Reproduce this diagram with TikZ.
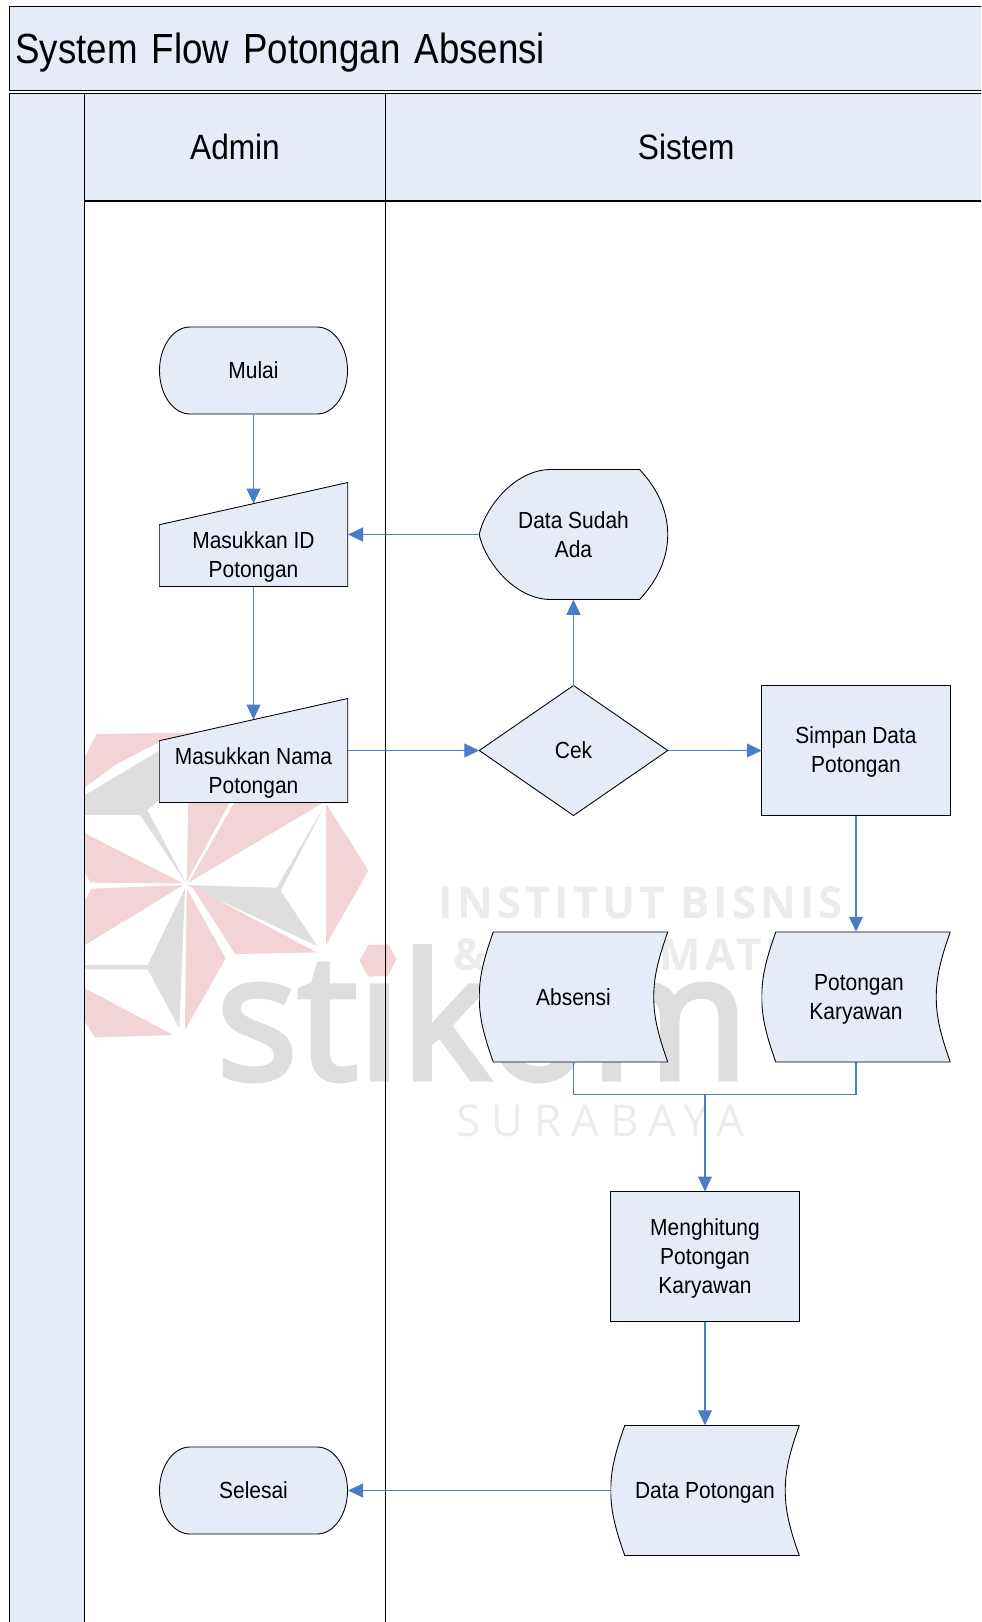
\documentclass[tikz,border=0pt]{standalone}
\usepackage{fontspec}
\setmainfont[FakeStretch=0.9]{Liberation Sans}
\newfontfamily\titlefamily[FakeStretch=0.87,WordSpace=0.45]{Liberation Sans}
\newfontfamily\markfont{Open Sans}
\newfontfamily\stikomfont[FakeStretch=0.98,FakeBold=3]{Open Sans}
\usetikzlibrary{arrows.meta,shapes.geometric}

\definecolor{boxblue}{HTML}{E6ECF7}
\definecolor{lineblue}{HTML}{4A7CC7}
\definecolor{markpink}{HTML}{F2D3D6}
\definecolor{markgray}{HTML}{DEDEDE}
\definecolor{marklight}{HTML}{ECECEC}

\newcommand{\titlefont}{\titlefamily\fontsize{24}{28}\selectfont}
\newcommand{\headfont}{\fontsize{20}{24}\selectfont}
\newcommand{\boxfont}{\fontsize{13.25}{16.5}\selectfont}

\begin{document}
\begin{tikzpicture}[node distance=4.32cm,>={Triangle[length=0.3cm,width=0.28cm]}]

\tikzstyle{band}=[rectangle,draw=black,fill=boxblue,line width=0.5pt,inner sep=0,outer sep=0,anchor=north west]
\tikzstyle{lane}=[rectangle,draw=black,line width=0.6pt,inner sep=0,outer sep=0,anchor=north west]
\tikzstyle{outline}=[draw=black,fill=boxblue,line width=0.5pt]
\tikzstyle{flowbox}=[inner sep=0,outer sep=0,align=center,font=\boxfont]
\tikzstyle{procbox}=[flowbox,rectangle,outline,minimum width=3.77cm,minimum height=2.6cm]
\tikzstyle{cekbox}=[flowbox,diamond,outline,minimum width=3.77cm,minimum height=2.6cm]
\tikzstyle{endbox}=[flowbox,minimum width=3.78cm,minimum height=1.76cm,path picture={
  \draw [outline] (path picture bounding box.center) ++(-1.27,0.87) -- ++(2.54,0)
    arc [start angle=90,end angle=-90,x radius=0.61cm,y radius=0.87cm] -- ++(-2.54,0)
    arc [start angle=270,end angle=90,x radius=0.61cm,y radius=0.87cm] -- cycle;}]
\tikzstyle{inputbox}=[flowbox,minimum width=3.78cm,minimum height=2.1cm,text height=1.82cm,path picture={
  \draw [outline] (path picture bounding box.center) ++(-1.885,-1.04) -- ++(0,1.235) -- ++(3.77,0.845) -- ++(0,-2.08) -- cycle;}]
\tikzstyle{showbox}=[flowbox,minimum width=3.78cm,minimum height=2.61cm,path picture={
  \draw [outline] (path picture bounding box.center) ++(-0.45,1.3) -- ++(1.77,0)
    .. controls +(0.38,-0.4) and +(0,0.45) .. ++(0.565,-1.3)
    .. controls +(0,-0.45) and +(0.38,0.4) .. ++(-0.565,-1.3) -- ++(-1.77,0)
    .. controls +(-0.75,0) and +(0.1,-0.5) .. ++(-1.435,1.3)
    .. controls +(0.1,0.5) and +(-0.75,0) .. ++(1.435,1.3) -- cycle;}]
\tikzstyle{storebox}=[flowbox,minimum width=3.78cm,minimum height=2.61cm,path picture={
  \draw [outline] (path picture bounding box.center) ++(-1.605,1.3) -- ++(3.49,0)
    .. controls +(-0.195,-0.55) and +(0,0.4) .. ++(-0.28,-1.3)
    .. controls +(0,-0.4) and +(-0.195,0.55) .. ++(0.28,-1.3) -- ++(-3.49,0)
    .. controls +(-0.195,0.55) and +(0,-0.4) .. ++(-0.28,1.3)
    .. controls +(0,0.4) and +(-0.195,-0.55) .. ++(0.28,1.3) -- cycle;}]
\tikzstyle{flow}=[->,color=lineblue,line width=0.6pt]

\path [use as bounding box,clip] (0,0) rectangle (19.62,-32.44);

%watermark logo
\begin{scope}[shift={(1.2,-14)},x=0.00667cm,y=-0.00667cm]
\fill [markpink] (75,170) -- (110,102) -- (400,98) -- (290,130) -- (165,195) -- (75,262) -- cycle;
\fill [markgray] (75,285) -- (310,145) -- (310,290) -- (262,330) -- (380,552) -- (240,345) -- (75,345) -- cycle;
\fill [markpink] (385,300) -- (510,305) -- (380,545) -- cycle;
\fill [markpink] (525,305) -- (795,305) -- (385,548) -- cycle;
\fill [markgray] (380,555) -- (650,563) -- (797,310) -- (662,572) -- (772,738) -- cycle;
\fill [markpink] (798,310) -- (925,512) -- (798,735) -- cycle;
\fill [markpink] (395,558) -- (770,757) -- (525,762) -- cycle;
\fill [markpink] (380,565) -- (497,775) -- (375,990) -- cycle;
\fill [markgray] (375,565) -- (358,985) -- (263,808) -- (75,808) -- (75,795) -- (263,795) -- cycle;
\fill [markpink] (75,400) -- (370,550) -- (92,548) -- (75,518) -- cycle;
\fill [markpink] (370,555) -- (95,566) -- (75,600) -- (75,735) -- cycle;
\fill [markpink] (75,865) -- (340,1005) -- (105,1012) -- (75,965) -- cycle;
\end{scope}

%watermark text
\node [anchor=base west,inner sep=0,text=markgray,font={\stikomfont\fontsize{99}{99}\selectfont}] (markname) at (4.32,-21.58) {stikom};
\fill [markpink,shift={(1.2,-14)},x=0.00667cm,y=-0.00667cm] (898,782) -- (925,735) -- (985,733) -- (1010,777) -- (983,828) -- (925,830) -- cycle;
\node [anchor=center,inner sep=0,text=marklight,font={\markfont\bfseries\fontsize{25}{25}\selectfont\addfontfeatures{LetterSpace=9}}] (markone) at (12.82,-18.06) {INSTITUT BISNIS};
\node [anchor=west,inner sep=0,text=marklight,font={\markfont\bfseries\fontsize{25}{25}\selectfont\addfontfeatures{LetterSpace=9}}] (marktwo) at (9.06,-19.1) {\& INFORMATIKA};
\node [anchor=center,inner sep=0,text=marklight,font={\markfont\fontsize{25}{25}\selectfont\addfontfeatures{LetterSpace=24}}] (markthree) at (12.01,-22.42) {SURABAYA};

%swimlanes
\node [band,minimum width=19.8cm,minimum height=1.69cm,font=\titlefont,text width=19.56cm,text height=0.78cm,align=left] (title) at (0.19,-0.12) {System Flow Potongan Absensi};
\node [band,minimum width=1.5cm,minimum height=31cm] (side) at (0.19,-1.86) {};
\node [band,minimum width=6.02cm,minimum height=2.16cm,font=\headfont] (admin) at (side.north east) {Admin};
\node [band,minimum width=12.03cm,minimum height=2.16cm,font=\headfont] (sistem) at (admin.north east) {Sistem};
\node [lane,minimum width=6.02cm,minimum height=29cm] (adminlane) at (admin.south west) {};
\node [lane,minimum width=12.03cm,minimum height=29cm] (sistemlane) at (sistem.south west) {};

%admin lane
\node [endbox] (mulai) at (5.07,-7.41) {Mulai};
\node [inputbox,node distance=3.28cm] (idin) [below of=mulai] {Masukkan ID\\Potongan};
\node [inputbox] (namain) [below of=idin] {Masukkan Nama\\Potongan};

%sistem lane
\node [cekbox,node distance=6.4cm] (cek) [right of=namain,text height=0.33cm] {Cek};
\node [showbox] (sudah) [above of=cek] {Data Sudah\\Ada};
\node [procbox,node distance=5.65cm,text height=0.98cm] (simpan) [right of=cek] {Simpan Data\\Potongan};
\node [storebox,node distance=4.93cm,text height=0.98cm] (karyawan) [below of=simpan] {\hspace*{0.12cm}Potongan\\Karyawan};
\node [storebox,node distance=5.65cm] (absensi) [left of=karyawan] {Absensi};
\node [procbox,node distance=5.19cm,xshift=2.63cm,text height=1.57cm] (hitung) [below of=absensi] {Menghitung\\Potongan\\Karyawan};
\node [storebox,node distance=4.68cm,text height=0.41cm] (datapot) [below of=hitung] {Data Potongan};
\node [endbox] (selesai) at (mulai |- datapot) {Selesai};

\coordinate [yshift=-0.64cm] (merge) at (hitung.north |- absensi.south);

%connectors
\path [flow] (mulai) edge ([yshift=-0.43cm]idin.north)
      (idin) edge ([yshift=-0.43cm]namain.north)
      (namain) edge (cek)
      (cek) edge (sudah)
      (sudah) edge (idin)
      (cek) edge (simpan)
      (simpan) edge (karyawan)
      (merge) edge (hitung)
      (hitung) edge (datapot)
      (datapot) edge (selesai);

\draw [color=lineblue,line width=0.6pt] (absensi.south) |- (merge);
\draw [color=lineblue,line width=0.6pt] (karyawan.south) |- (merge);

\end{tikzpicture}
\end{document}
